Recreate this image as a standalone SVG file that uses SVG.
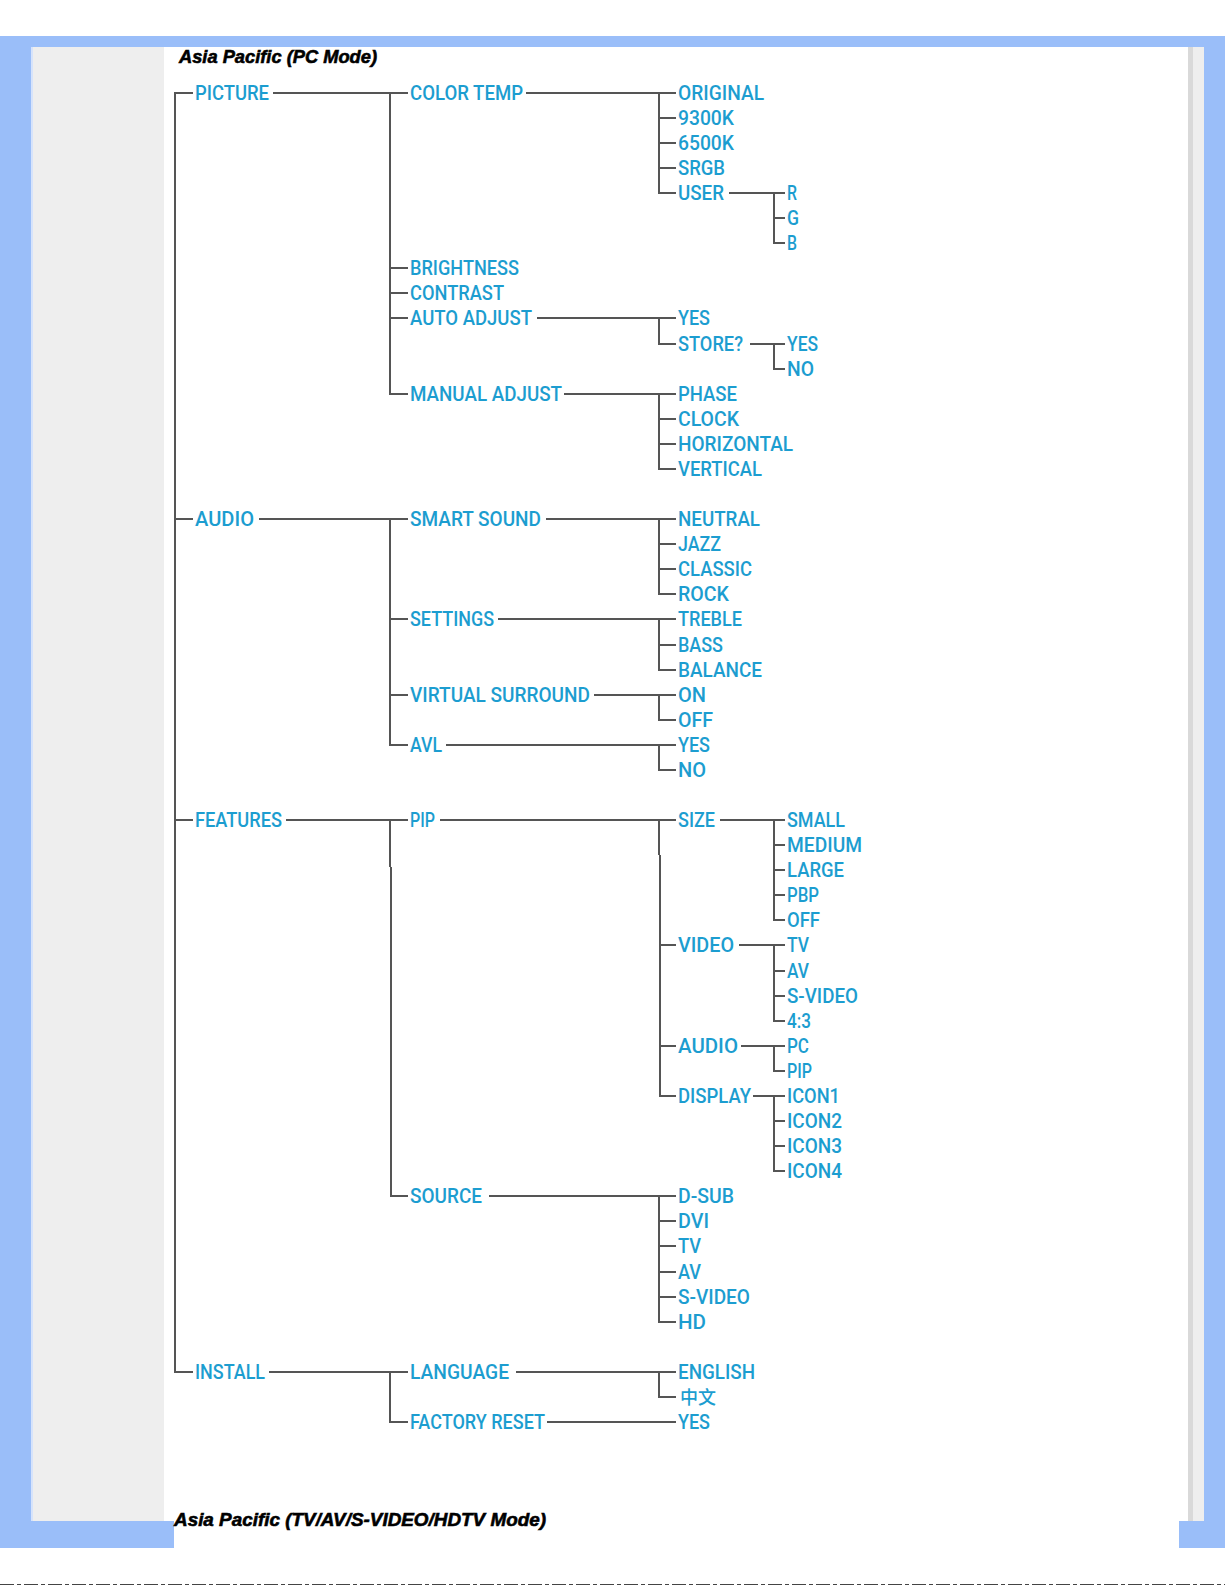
<svg xmlns="http://www.w3.org/2000/svg" width="1225" height="1585" viewBox="0 0 1225 1585">
<style>
.t{font-family:Roboto,"Liberation Sans",sans-serif;font-size:20px;font-weight:500;fill:#1C9DD0;}
.ttl{font-family:"Liberation Sans",Arial,sans-serif;font-size:19px;font-weight:bold;font-style:italic;fill:#000;stroke:#000;stroke-width:0.6;}
.c{fill:none;stroke:#555;stroke-width:2;}
.blue{fill:#9ABEF9;}
</style>
<rect width="1225" height="1585" fill="#fff"/>
<g id="frame">
<rect class="blue" x="0" y="36" width="1225" height="11"/>
<rect class="blue" x="0" y="36" width="31" height="1512"/>
<rect x="31" y="47" width="2" height="1474" fill="#D6E3FB"/>
<rect x="33" y="47" width="131" height="1474" fill="#EEEEEE"/>
<rect class="blue" x="0" y="1521" width="174" height="27"/>
<rect x="1188" y="47" width="5" height="1474" fill="#D9D9D9"/>
<rect x="1193" y="47" width="11" height="1474" fill="#EEEEEE"/>
<rect class="blue" x="1204" y="36" width="21" height="1512"/>
<rect class="blue" x="1179" y="1521" width="46" height="27"/>
<line x1="0" y1="1584.5" x2="1225" y2="1584.5" stroke="#444" stroke-width="1" stroke-dasharray="14 3 4 3"/>
</g>
<text class="ttl" x="179" y="63" textLength="198" lengthAdjust="spacingAndGlyphs">Asia Pacific (PC Mode)</text>
<text class="ttl" x="174" y="1526" textLength="372" lengthAdjust="spacingAndGlyphs">Asia Pacific (TV/AV/S-VIDEO/HDTV Mode)</text>
<g id="connectors" class="c">
<path d="M193 93 H175 V1372 H193 M175 519 H193 M175 820 H193"/>
<path d="M273 93 H408 M390 93 V394 H408 M390 268 H408 M390 293 H408 M390 318 H408"/>
<path d="M526 93 H676 M659 93 V193 H676 M659 118 H676 M659 143 H676 M659 168 H676"/>
<path d="M729 193 H785 M774 193 V243 H785 M774 218 H785"/>
<path d="M537 318 H676 M659 318 V344 H676"/>
<path d="M750 344 H785 M774 344 V369 H785"/>
<path d="M564 394 H676 M659 394 V469 H676 M659 419 H676 M659 444 H676"/>
<path d="M259 519 H408 M390 519 V745 H408 M390 619 H408 M390 695 H408"/>
<path d="M546 519 H676 M659 519 V594 H676 M659 544 H676 M659 569 H676"/>
<path d="M498 619 H676 M659 619 V670 H676 M659 645 H676"/>
<path d="M594 695 H676 M659 695 V720 H676"/>
<path d="M446 745 H676 M659 745 V770 H676"/>
<path d="M286 820 H408 M390 820 V867 M391 867 V1196 H408"/>
<path d="M440 820 H676 M659 820 V855 M660 855 V1096 H676 M660 945 H676 M660 1046 H676"/>
<path d="M720 820 H785 M774 820 V920 H785 M774 845 H785 M774 870 H785 M774 895 H785"/>
<path d="M739 945 H785 M774 945 V1021 H785 M774 971 H785 M774 996 H785"/>
<path d="M741 1046 H785 M774 1046 V1071 H785"/>
<path d="M753 1096 H785 M774 1096 V1171 H785 M774 1121 H785 M774 1146 H785"/>
<path d="M489 1196 H676 M659 1196 V1322 H676 M659 1221 H676 M659 1246 H676 M659 1272 H676 M659 1297 H676"/>
<path d="M269 1372 H408 M390 1372 V1422 H408"/>
<path d="M516 1372 H676 M659 1372 V1397 H676"/>
<path d="M547 1422 H676"/>
</g>
<g id="picture"><text class="t" x="195" y="100" textLength="74" lengthAdjust="spacingAndGlyphs">PICTURE</text></g>
<g id="audio"><text class="t" x="195" y="526" textLength="59" lengthAdjust="spacingAndGlyphs">AUDIO</text></g>
<g id="features"><text class="t" x="195" y="827" textLength="87" lengthAdjust="spacingAndGlyphs">FEATURES</text></g>
<g id="install"><text class="t" x="195" y="1379" textLength="70" lengthAdjust="spacingAndGlyphs">INSTALL</text></g>
<g id="color-temp"><text class="t" x="410" y="100" textLength="113" lengthAdjust="spacingAndGlyphs">COLOR TEMP</text></g>
<g id="brightness"><text class="t" x="410" y="275" textLength="109" lengthAdjust="spacingAndGlyphs">BRIGHTNESS</text></g>
<g id="contrast"><text class="t" x="410" y="300" textLength="94" lengthAdjust="spacingAndGlyphs">CONTRAST</text></g>
<g id="auto-adjust"><text class="t" x="410" y="325" textLength="122" lengthAdjust="spacingAndGlyphs">AUTO ADJUST</text></g>
<g id="manual-adjust"><text class="t" x="410" y="401" textLength="152" lengthAdjust="spacingAndGlyphs">MANUAL ADJUST</text></g>
<g id="smart-sound"><text class="t" x="410" y="526" textLength="131" lengthAdjust="spacingAndGlyphs">SMART SOUND</text></g>
<g id="settings"><text class="t" x="410" y="626" textLength="84" lengthAdjust="spacingAndGlyphs">SETTINGS</text></g>
<g id="virtual-surround"><text class="t" x="410" y="702" textLength="180" lengthAdjust="spacingAndGlyphs">VIRTUAL SURROUND</text></g>
<g id="avl"><text class="t" x="410" y="752" textLength="32" lengthAdjust="spacingAndGlyphs">AVL</text></g>
<g id="pip"><text class="t" x="410" y="827" textLength="25" lengthAdjust="spacingAndGlyphs">PIP</text></g>
<g id="source"><text class="t" x="410" y="1203" textLength="72" lengthAdjust="spacingAndGlyphs">SOURCE</text></g>
<g id="language"><text class="t" x="410" y="1379" textLength="99" lengthAdjust="spacingAndGlyphs">LANGUAGE</text></g>
<g id="factory-reset"><text class="t" x="410" y="1429" textLength="135" lengthAdjust="spacingAndGlyphs">FACTORY RESET</text></g>
<g id="original"><text class="t" x="678" y="100" textLength="86" lengthAdjust="spacingAndGlyphs">ORIGINAL</text></g>
<g id="k9300"><text class="t" x="678" y="125" textLength="56" lengthAdjust="spacingAndGlyphs">9300K</text></g>
<g id="k6500"><text class="t" x="678" y="150" textLength="56" lengthAdjust="spacingAndGlyphs">6500K</text></g>
<g id="srgb"><text class="t" x="678" y="175" textLength="47" lengthAdjust="spacingAndGlyphs">SRGB</text></g>
<g id="user"><text class="t" x="678" y="200" textLength="46" lengthAdjust="spacingAndGlyphs">USER</text></g>
<g id="auto-yes"><text class="t" x="678" y="325" textLength="32" lengthAdjust="spacingAndGlyphs">YES</text></g>
<g id="store"><text class="t" x="678" y="351" textLength="65" lengthAdjust="spacingAndGlyphs">STORE?</text></g>
<g id="phase"><text class="t" x="678" y="401" textLength="59" lengthAdjust="spacingAndGlyphs">PHASE</text></g>
<g id="clock"><text class="t" x="678" y="426" textLength="61" lengthAdjust="spacingAndGlyphs">CLOCK</text></g>
<g id="horizontal"><text class="t" x="678" y="451" textLength="115" lengthAdjust="spacingAndGlyphs">HORIZONTAL</text></g>
<g id="vertical"><text class="t" x="678" y="476" textLength="84" lengthAdjust="spacingAndGlyphs">VERTICAL</text></g>
<g id="neutral"><text class="t" x="678" y="526" textLength="82" lengthAdjust="spacingAndGlyphs">NEUTRAL</text></g>
<g id="jazz"><text class="t" x="678" y="551" textLength="43" lengthAdjust="spacingAndGlyphs">JAZZ</text></g>
<g id="classic"><text class="t" x="678" y="576" textLength="74" lengthAdjust="spacingAndGlyphs">CLASSIC</text></g>
<g id="rock"><text class="t" x="678" y="601" textLength="51" lengthAdjust="spacingAndGlyphs">ROCK</text></g>
<g id="treble"><text class="t" x="678" y="626" textLength="64" lengthAdjust="spacingAndGlyphs">TREBLE</text></g>
<g id="bass"><text class="t" x="678" y="652" textLength="45" lengthAdjust="spacingAndGlyphs">BASS</text></g>
<g id="balance"><text class="t" x="678" y="677" textLength="84" lengthAdjust="spacingAndGlyphs">BALANCE</text></g>
<g id="vs-on"><text class="t" x="678" y="702" textLength="28" lengthAdjust="spacingAndGlyphs">ON</text></g>
<g id="vs-off"><text class="t" x="678" y="727" textLength="35" lengthAdjust="spacingAndGlyphs">OFF</text></g>
<g id="avl-yes"><text class="t" x="678" y="752" textLength="32" lengthAdjust="spacingAndGlyphs">YES</text></g>
<g id="avl-no"><text class="t" x="678" y="777" textLength="28" lengthAdjust="spacingAndGlyphs">NO</text></g>
<g id="size"><text class="t" x="678" y="827" textLength="37" lengthAdjust="spacingAndGlyphs">SIZE</text></g>
<g id="video"><text class="t" x="678" y="952" textLength="56" lengthAdjust="spacingAndGlyphs">VIDEO</text></g>
<g id="pip-audio"><text class="t" x="678" y="1053" textLength="60" lengthAdjust="spacingAndGlyphs">AUDIO</text></g>
<g id="display"><text class="t" x="678" y="1103" textLength="73" lengthAdjust="spacingAndGlyphs">DISPLAY</text></g>
<g id="d-sub"><text class="t" x="678" y="1203" textLength="56" lengthAdjust="spacingAndGlyphs">D-SUB</text></g>
<g id="dvi"><text class="t" x="678" y="1228" textLength="31" lengthAdjust="spacingAndGlyphs">DVI</text></g>
<g id="src-tv"><text class="t" x="678" y="1253" textLength="23" lengthAdjust="spacingAndGlyphs">TV</text></g>
<g id="src-av"><text class="t" x="678" y="1279" textLength="23" lengthAdjust="spacingAndGlyphs">AV</text></g>
<g id="src-svideo"><text class="t" x="678" y="1304" textLength="72" lengthAdjust="spacingAndGlyphs">S-VIDEO</text></g>
<g id="hd"><text class="t" x="678" y="1329" textLength="28" lengthAdjust="spacingAndGlyphs">HD</text></g>
<g id="english"><text class="t" x="678" y="1379" textLength="77" lengthAdjust="spacingAndGlyphs">ENGLISH</text></g>
<g id="chinese"><text x="680" y="1404" style="font-family:'Noto Sans CJK SC','Noto Sans CJK TC',sans-serif;font-size:18px;font-weight:500;fill:#1C9DD0;">中文</text></g>
<g id="reset-yes"><text class="t" x="678" y="1429" textLength="32" lengthAdjust="spacingAndGlyphs">YES</text></g>
<g id="r"><text class="t" x="787" y="200" textLength="10" lengthAdjust="spacingAndGlyphs">R</text></g>
<g id="g"><text class="t" x="787" y="225" textLength="12" lengthAdjust="spacingAndGlyphs">G</text></g>
<g id="b"><text class="t" x="787" y="250" textLength="10" lengthAdjust="spacingAndGlyphs">B</text></g>
<g id="store-yes"><text class="t" x="787" y="351" textLength="31" lengthAdjust="spacingAndGlyphs">YES</text></g>
<g id="store-no"><text class="t" x="787" y="376" textLength="27" lengthAdjust="spacingAndGlyphs">NO</text></g>
<g id="small"><text class="t" x="787" y="827" textLength="58" lengthAdjust="spacingAndGlyphs">SMALL</text></g>
<g id="medium"><text class="t" x="787" y="852" textLength="75" lengthAdjust="spacingAndGlyphs">MEDIUM</text></g>
<g id="large"><text class="t" x="787" y="877" textLength="57" lengthAdjust="spacingAndGlyphs">LARGE</text></g>
<g id="pbp"><text class="t" x="787" y="902" textLength="32" lengthAdjust="spacingAndGlyphs">PBP</text></g>
<g id="size-off"><text class="t" x="787" y="927" textLength="33" lengthAdjust="spacingAndGlyphs">OFF</text></g>
<g id="vid-tv"><text class="t" x="787" y="952" textLength="22" lengthAdjust="spacingAndGlyphs">TV</text></g>
<g id="vid-av"><text class="t" x="787" y="978" textLength="22" lengthAdjust="spacingAndGlyphs">AV</text></g>
<g id="vid-svideo"><text class="t" x="787" y="1003" textLength="71" lengthAdjust="spacingAndGlyphs">S-VIDEO</text></g>
<g id="vid-43"><text class="t" x="787" y="1028" textLength="24" lengthAdjust="spacingAndGlyphs">4:3</text></g>
<g id="aud-pc"><text class="t" x="787" y="1053" textLength="22" lengthAdjust="spacingAndGlyphs">PC</text></g>
<g id="aud-pip"><text class="t" x="787" y="1078" textLength="25" lengthAdjust="spacingAndGlyphs">PIP</text></g>
<g id="icon1"><text class="t" x="787" y="1103" textLength="53" lengthAdjust="spacingAndGlyphs">ICON1</text></g>
<g id="icon2"><text class="t" x="787" y="1128" textLength="55" lengthAdjust="spacingAndGlyphs">ICON2</text></g>
<g id="icon3"><text class="t" x="787" y="1153" textLength="55" lengthAdjust="spacingAndGlyphs">ICON3</text></g>
<g id="icon4"><text class="t" x="787" y="1178" textLength="55" lengthAdjust="spacingAndGlyphs">ICON4</text></g>
</svg>
